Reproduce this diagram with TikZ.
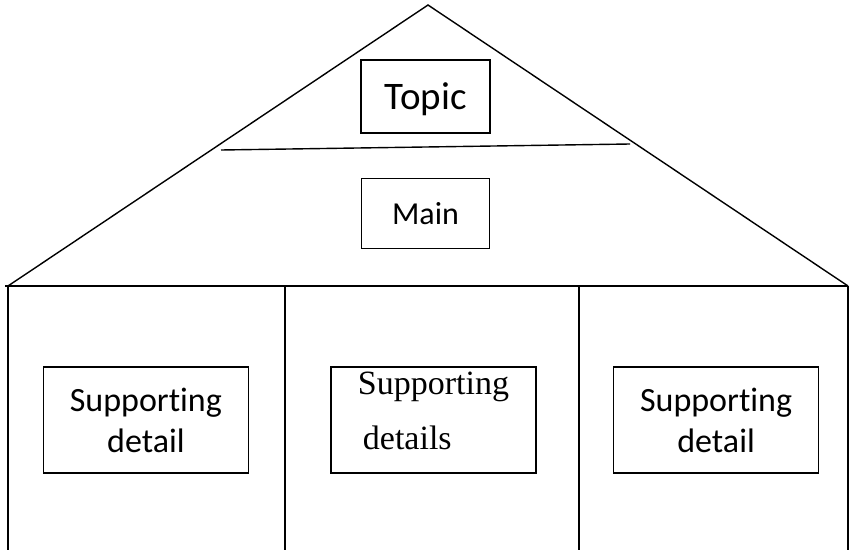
\documentclass[tikz,border=0pt]{standalone}
\usepackage{fontspec}
\setmainfont{Carlito}[Ligatures=NoCommon]
\newfontfamily\detailserif{Liberation Serif}
\usetikzlibrary{positioning}

\begin{document}
\begin{tikzpicture}[
		x=1pt, y=1pt,
		wall/.style={line width=1.4pt},
		headbox/.style={rectangle, draw, line width=1.6pt, inner sep=0pt, text centered, minimum width=129pt, minimum height=73pt},
		detailbox/.style={rectangle, draw, line width=1.6pt, inner sep=0pt, align=center, minimum width=205pt, minimum height=106pt, font=\fontsize{34}{41}\selectfont}
		]
		\useasboundingbox (0,0) rectangle (850,550);
		
		% House
		\coordinate (apex) at (428,545);
		\coordinate (eaveL) at (8,264);
		\coordinate (eaveR) at (848,264);
		\draw [wall] (eaveL) -- (apex) -- (eaveR);
		\draw [wall] (5,264) -- (eaveR);
		\draw [wall] (221,400) -- (630,406);
		\foreach \x in {8,285,579,848}
		\draw [wall] (\x,264) -- (\x,0);
		
		% Nodes
		\node (topic) [headbox, text depth=0pt, font=\fontsize{39}{44}\selectfont] at (425.5,453.5) {Topic};
		\node (mainidea) [headbox, minimum width=128pt, minimum height=70pt, below=44pt of topic, font=\fontsize{32}{38}\selectfont] {Main};
		\node (detailB) [detailbox, align=left, text depth=18pt, font=\detailserif\fontsize{34}{55}\selectfont] at (433.5,130) {Supporting\\\hspace*{5pt}details};
		\node (detailA) [detailbox, left=81pt of detailB] {Supporting\\detail};
		\node (detailC) [detailbox, right=76pt of detailB] {Supporting\\detail};
		
	\end{tikzpicture}
\end{document}
